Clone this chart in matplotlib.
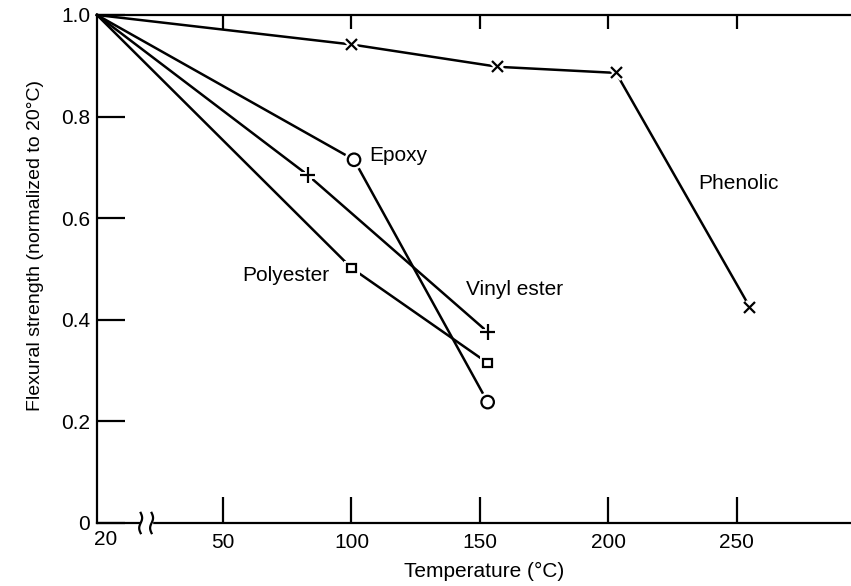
import numpy as np
import matplotlib
matplotlib.use("Agg")
import matplotlib.pyplot as plt
import matplotlib.patheffects as pe
import matplotlib.transforms as mtransforms

plt.rcParams['font.family'] = ['Liberation Sans', 'DejaVu Sans']

# ---- data ----
phenolic_x = [20, 100, 157, 203, 255]
phenolic_y = [1.0, 0.942, 0.898, 0.886, 0.425]
epoxy_x = [20, 101, 153]
epoxy_y = [1.0, 0.715, 0.238]
vinyl_x = [20, 83, 153]
vinyl_y = [1.0, 0.685, 0.376]
poly_x = [20, 100, 153]
poly_y = [1.0, 0.502, 0.315]

xticks = [20, 50, 100, 150, 200, 250]
xticklabels = ['20', '50', '100', '150', '200', '250']
yticks = [0, 0.2, 0.4, 0.6, 0.8, 1.0]
yticklabels = ['0', '0.2', '0.4', '0.6', '0.8', '1.0']

# broken axis: 20..50 is stretched
K = 1.634
def fwd(x):
    x = np.asarray(x, dtype=float)
    return np.where(x < 50, 50 - (50 - x) * K, x)
def inv(u):
    u = np.asarray(u, dtype=float)
    return np.where(u < 50, 50 - (50 - u) / K, u)

W, H = 851, 586
fig = plt.figure(figsize=(W / 100, H / 100), dpi=100)
ax = fig.add_axes([97 / W, (H - 523) / H, (851 - 97) / W, (523 - 15) / H])
ax.set_xscale('function', functions=(fwd, inv))
ax.set_xlim(20, 294.4)
ax.set_ylim(0, 1.0)

for s in ['left', 'bottom', 'top']:
    ax.spines[s].set_linewidth(1.6)
ax.spines['right'].set_visible(False)

ax.set_xticks(xticks[1:])
ax.set_xticklabels(xticklabels[1:])
ax.set_yticks(yticks)
ax.set_yticklabels(yticklabels)
ax.tick_params(axis='both', direction='in', labelsize=15, width=1.6)
ax.tick_params(axis='y', length=20, pad=5)
ax.tick_params(axis='x', length=19, pad=7)
ax.xaxis.set_minor_locator(matplotlib.ticker.NullLocator())
ax.text(22, -0.032, xticklabels[0], ha='center', va='center', fontsize=15,
        transform=ax.get_xaxis_transform(), clip_on=False)

# top ticks
ax2 = ax.twiny()
ax2.set_xscale('function', functions=(fwd, inv))
ax2.set_xlim(ax.get_xlim())
ax2.set_xticks(xticks[1:])
ax2.set_xticklabels([])
ax2.tick_params(axis='x', direction='in', length=10, width=1.6)
ax2.xaxis.set_minor_locator(matplotlib.ticker.NullLocator())
for s in ax2.spines.values():
    s.set_visible(False)

lw = 1.8
halo = [pe.Stroke(linewidth=5, foreground='white'), pe.Normal()]

def series(x, y, marker, ms):
    ax.plot(x, y, color='black', lw=lw, clip_on=False, zorder=3)
    ax.plot(x[1:], y[1:], ls='none', marker=marker, ms=ms, mfc='white',
            mec='black', mew=1.6, zorder=4, path_effects=halo, clip_on=False)

series(phenolic_x, phenolic_y, 'x', 8)
series(epoxy_x, epoxy_y, 'o', 9)
series(vinyl_x, vinyl_y, '+', 11)
series(poly_x, poly_y, 's', 6)

ax.text(107, 0.724, 'Epoxy', fontsize=15, ha='left', va='center')
ax.text(57.5, 0.488, 'Polyester', fontsize=15, ha='left', va='center')
ax.text(144.5, 0.459, 'Vinyl ester', fontsize=15, ha='left', va='center')
ax.text(235, 0.669, 'Phenolic', fontsize=15, ha='left', va='center')

ax.set_xlabel('Temperature (\u00b0C)', fontsize=15)
ax.set_ylabel('Flexural strength (normalized to 20\u00b0C)', fontsize=14)
ax.xaxis.set_label_coords(0.513, -0.077)
ax.yaxis.set_label_coords(-0.082, 0.547)
ax.yaxis.label.set_va('center')

# axis break symbol
tr = mtransforms.blended_transform_factory(ax.transData, ax.transAxes)
ax.fill_between([30.4, 33.0], -0.012, 0.012, color='white', transform=tr,
                zorder=5, clip_on=False)
t = np.linspace(-1, 1, 50)
for xc in [30.4, 33.0]:
    xs = xc + 0.35 * np.sin(t * np.pi)
    ys = t * 0.02
    ax.plot(xs, ys, color='black', lw=1.6, transform=tr, clip_on=False, zorder=6)

fig.savefig('out.png', dpi=100)
